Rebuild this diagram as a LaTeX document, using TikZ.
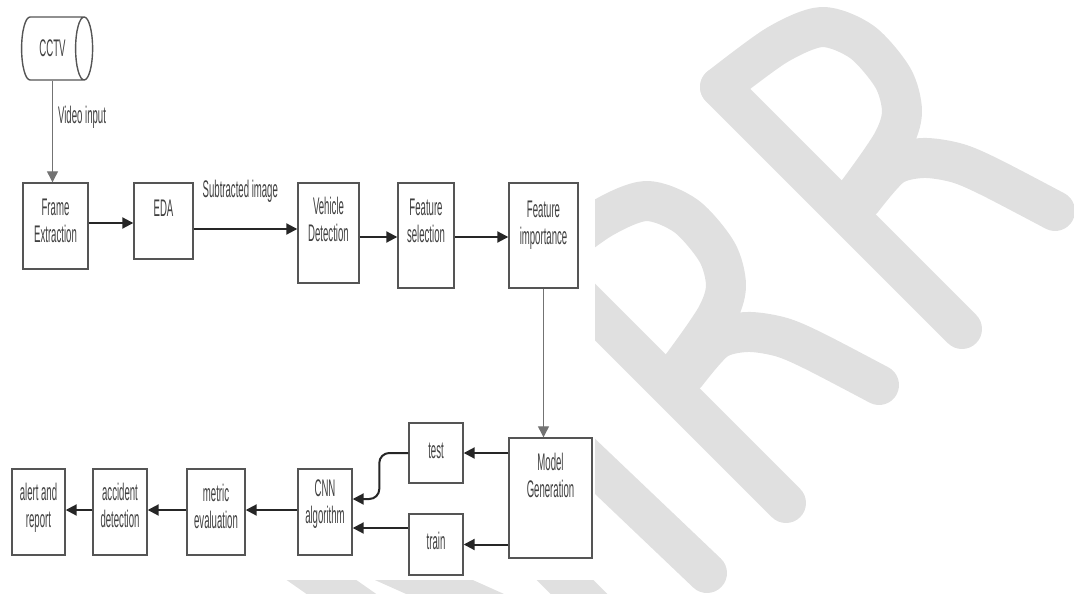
\documentclass[tikz,border=0pt]{standalone}
\usepackage{fontspec}
\newfontfamily\narrowsans[FakeStretch=0.4]{Liberation Sans}
\usetikzlibrary{shapes.geometric,arrows.meta}
\definecolor{wmgrey}{HTML}{E0E0E0}
\definecolor{boxline}{HTML}{555555}
\definecolor{txtgrey}{HTML}{404040}
\newcommand\diagfont{\narrowsans\fontsize{24}{27}\selectfont}
\newcommand\blocktext[2]{\raisebox{\dimexpr#1-6pt\relax}[0pt][0pt]{\begin{tabular}{@{}c@{}}#2\end{tabular}}}
\tikzset{
  block/.style={
    draw = boxline,
    line width = 1.4pt,
    fill = white,
    inner sep = 0pt,
    font = \diagfont,
    text = txtgrey
  },
}
\tikzset{
  cyl/.style={
    shape = cylinder,
    aspect = 1,
    draw = boxline,
    line width = 1.4pt,
    inner sep = 0pt,
    minimum width = 63pt,
    minimum height = 71pt,
    font = \diagfont,
    text = txtgrey
  },
  flow/.style={
    draw = black!85,
    line width = 2pt,
    -{Triangle[length=11pt,width=11pt]}
  },
  thinflow/.style={
    flow,
    draw = black!55,
    line width = 1.2pt
  },
  edgelabel/.style={
    font = \diagfont,
    text = txtgrey,
    inner sep = 0pt
  },
  wmstroke/.style={
    draw = wmgrey,
    line width = 40pt,
    line cap = round,
    line join = round
  }
}

\begin{document}
\begin{tikzpicture}[x=1pt, y=-1pt]
    \useasboundingbox (0,0) rectangle (1074,594);

    % watermark behind the chart
    \foreach \dx/\dy in {0/0, -176/174} {
      \begin{scope}[shift={(\dx,\dy)}, wmstroke]
        \draw (720,87) -- (962,329);
        \draw plot[smooth] coordinates {(720,87) (777,45) (822,27) (862,42) (893,78) (902,112) (892,143) (858,192) (845,205)};
        \draw plot[smooth] coordinates {(862,200) (892,166) (923,158) (957,163) (990,177) (1055,211)};
      \end{scope}
    }
    \draw[wmstroke] (540,414) -- (707,573);
    \draw[wmstroke] (480,495) -- (640,655);
    \draw[wmstroke] (330,538) -- (540,632);
    \draw[wmstroke] (250,530) -- (400,635);
    \fill[white] (0,0) rectangle (595,580);

    % top row
    \node[cyl] (cctv) at (52.5,48.5) {CCTV};
    \node[block, minimum width=65pt, minimum height=86pt] (frame) at (55.5,226) {\blocktext{2.5pt}{Frame\\Extraction}};
    \node[block, minimum width=59pt, minimum height=76pt] (eda) at (163.5,221) {\blocktext{10pt}{EDA}};
    \node[block, minimum width=61pt, minimum height=100pt] (vehicle) at (328.5,233) {\blocktext{10.5pt}{Vehicle\\Detection}};
    \node[block, minimum width=56pt, minimum height=105pt] (fsel) at (426,235.5) {\blocktext{12pt}{Feature\\selection}};
    \node[block, minimum width=69pt, minimum height=105pt] (fimp) at (543.5,235.5) {\blocktext{10pt}{Feature\\importance}};

    % bottom row
    \node[block, minimum width=83pt, minimum height=120pt] (model) at (550.5,498) {\blocktext{19pt}{Model\\Generation}};
    \node[block, minimum width=54pt, minimum height=60pt] (test) at (436,453) {\blocktext{0pt}{test}};
    \node[block, minimum width=54pt, minimum height=61pt] (train) at (436,544.5) {\blocktext{0pt}{train}};
    \node[block, minimum width=54pt, minimum height=86pt] (cnn) at (325,512) {\blocktext{7pt}{CNN\\algorithm}};
    \node[block, minimum width=58pt, minimum height=86pt] (metric) at (216,512) {\blocktext{2.5pt}{metric\\evaluation}};
    \node[block, minimum width=54pt, minimum height=86pt] (accident) at (120,512) {\blocktext{3.5pt}{accident\\detection}};
    \node[block, minimum width=53pt, minimum height=86pt] (alert) at (38.5,512) {\blocktext{3.5pt}{alert and\\report}};

    \draw[thinflow] (cctv.south) -- (cctv.south |- frame.north)
        node[edgelabel, pos=0.36, right=5pt] {Video input};
    \draw[flow] ([yshift=3pt]frame.east) -- ([yshift=3pt]frame.east -| eda.west);
    \draw[flow] ([yshift=-8pt]eda.east) -- ([yshift=-8pt]eda.east -| vehicle.west)
        node[edgelabel, pos=0.45, above=26pt] {Subtracted image};
    \draw[flow] ([yshift=-4pt]vehicle.east) -- ([yshift=-4pt]vehicle.east -| fsel.west);
    \draw[flow] ([yshift=-1.5pt]fsel.east) -- ([yshift=-1.5pt]fsel.east -| fimp.west);
    \draw[thinflow] (fimp.south) -- (fimp.south |- model.north);

    \draw[flow] (model.west |- test.east) -- (test.east);
    \draw[flow] (model.west |- train.east) -- (train.east);
    \draw[flow, rounded corners=10pt] (test.west) -- ++(-29,0) |- ([yshift=13pt]cnn.east);
    \draw[flow] ([yshift=16.5pt]train.west) -- ([yshift=16.5pt]train.west -| cnn.east);
    \draw[flow] ([yshift=2pt]cnn.west) -- ([yshift=2pt]cnn.west -| metric.east);
    \draw[flow] ([yshift=2pt]metric.west) -- ([yshift=2pt]metric.west -| accident.east);
    \draw[flow] ([yshift=2pt]accident.west) -- ([yshift=2pt]accident.west -| alert.east);
\end{tikzpicture}
\end{document}
